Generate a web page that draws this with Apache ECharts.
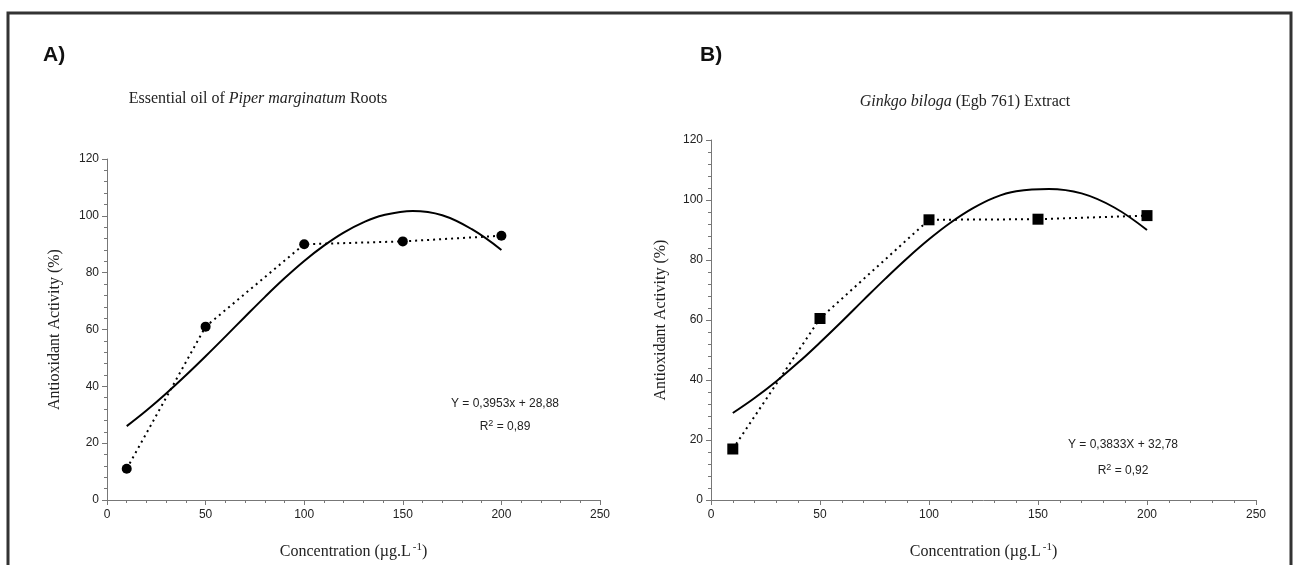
<!DOCTYPE html>
<html>
<head>
<meta charset="utf-8">
<script src="https://cdn.jsdelivr.net/npm/echarts@6/dist/echarts.min.js"></script>
<style>
  html, body { margin: 0; padding: 0; background: #fff; }
  #main { width: 1295px; height: 565px; }
</style>
</head>
<body>
<div id="main"></div>
<script>
// measured points (x = concentration)
var concentrations = [10, 50, 100, 150, 200];
var piperValues = [11, 61, 90, 91, 93];
var ginkgoValues = [17, 60.5, 93.4, 93.6, 94.8];

// fitted curves (one sample sits on the peak)
var curveX = [10, 20, 30, 40, 50, 60, 70, 80, 90, 100, 110, 120, 130, 140, 155, 170, 185, 200];
var piperCurve = [26, 31.5, 37.5, 43.9, 50.6, 57.5, 64.5, 71.4, 78, 84.1, 89.5, 94.1, 97.7, 100.2, 101.7, 100.2, 95.3, 88];
var ginkgoCurve = [29, 34, 39.6, 45.8, 52.5, 59.5, 66.7, 73.8, 80.6, 86.9, 92.5, 97.2, 100.8, 102.9, 103.7, 102.2, 97.5, 90];

var xTicks = [0, 50, 100, 150, 200, 250];
var yTicks = [0, 20, 40, 60, 80, 100, 120];

function pairs(xs, ys) {
    return xs.map(function (x, i) { return [x, ys[i]]; });
}

var serif = 'Liberation Serif';
var sans = 'Liberation Sans';

function xAxisOf(gridIndex) {
    return {
        gridIndex: gridIndex,
        type: 'value',
        min: xTicks[0],
        max: xTicks[xTicks.length - 1],
        interval: 50,
        name: '{n|Concentration (µg.L}{s|-1}{n|)}',
        nameLocation: 'middle',
        nameGap: 42,
        nameTextStyle: {
            rich: {
                n: { fontFamily: serif, fontSize: 16, fontWeight: 'normal', color: '#222', lineHeight: 20 },
                s: { fontFamily: serif, fontSize: 11, fontWeight: 'normal', color: '#222', verticalAlign: 'top', padding: [0, 0, 0, 2] }
            }
        },
        axisLine: { lineStyle: { color: '#777', width: 1 } },
        axisTick: { length: 5, lineStyle: { color: '#777' } },
        minorTick: { show: true, splitNumber: 5, length: 3, lineStyle: { color: '#777' } },
        splitLine: { show: false },
        axisLabel: { fontFamily: sans, fontSize: 12, color: '#222', margin: 9 }
    };
}

function yAxisOf(gridIndex, gap) {
    return {
        gridIndex: gridIndex,
        type: 'value',
        min: yTicks[0],
        max: yTicks[yTicks.length - 1],
        interval: 20,
        name: 'Antioxidant Activity (%)',
        nameLocation: 'middle',
        nameGap: gap,
        nameTextStyle: { fontFamily: serif, fontSize: 16, color: '#222' },
        axisLine: { show: true, lineStyle: { color: '#777', width: 1 } },
        axisTick: { show: true, length: 5, lineStyle: { color: '#777' } },
        minorTick: { show: true, splitNumber: 5, length: 3, lineStyle: { color: '#777' } },
        splitLine: { show: false },
        axisLabel: { fontFamily: sans, fontSize: 12, color: '#222', margin: 8 }
    };
}

var eqRich = {
    n: { fontFamily: sans, fontSize: 12, fontWeight: 'normal', color: '#222', lineHeight: 16 },
    s: { fontFamily: sans, fontSize: 9, fontWeight: 'normal', color: '#222', verticalAlign: 'top' }
};

var titleRich = {
    n: { fontFamily: serif, fontSize: 16, fontWeight: 'normal', color: '#222' },
    i: { fontFamily: serif, fontSize: 16, fontWeight: 'normal', fontStyle: 'italic', color: '#222' }
};

var myChart = echarts.init(document.getElementById('main'));

var option = {
    backgroundColor: '#fff',
    animation: false,
    graphic: [{
        type: 'rect',
        shape: { x: 8, y: 13, width: 1283, height: 620 },
        style: { fill: 'none', stroke: '#333', lineWidth: 3 },
        silent: true
    }],
    title: [
        { text: 'A)', left: 38, top: 40, textStyle: { fontFamily: sans, fontSize: 21, fontWeight: 'bold', color: '#111' } },
        { text: 'B)', left: 695, top: 40, textStyle: { fontFamily: sans, fontSize: 21, fontWeight: 'bold', color: '#111' } },
        {
            text: '{n|Essential oil of }{i|Piper marginatum}{n| Roots}',
            left: 253, top: 86, textAlign: 'center',
            textStyle: { rich: titleRich }
        },
        {
            text: '{i|Ginkgo biloga}{n| (Egb 761) Extract}',
            left: 960, top: 89, textAlign: 'center',
            textStyle: { rich: titleRich }
        },
        { text: '{n|Y = 0,3953x + 28,88}', left: 500, top: 391, textAlign: 'center', textStyle: { rich: eqRich } },
        { text: '{n|R}{s|2}{n| = 0,89}', left: 500, top: 414, textAlign: 'center', textStyle: { rich: eqRich } },
        { text: '{n|Y = 0,3833X + 32,78}', left: 1118, top: 432, textAlign: 'center', textStyle: { rich: eqRich } },
        { text: '{n|R}{s|2}{n| = 0,92}', left: 1118, top: 458, textAlign: 'center', textStyle: { rich: eqRich } }
    ],
    grid: [
        { left: 107, top: 159, width: 493, height: 341 },
        { left: 711, top: 140, width: 545, height: 364 }
    ],
    xAxis: [xAxisOf(0), xAxisOf(1)],
    yAxis: [yAxisOf(0, 44), yAxisOf(1, 42)],
    series: [
        {
            name: 'Piper fit',
            type: 'line',
            xAxisIndex: 0, yAxisIndex: 0,
            data: pairs(curveX, piperCurve),
            smooth: 0.4,
            showSymbol: false,
            lineStyle: { color: '#000', width: 2 }
        },
        {
            name: 'Piper',
            type: 'line',
            xAxisIndex: 0, yAxisIndex: 0,
            data: pairs(concentrations, piperValues),
            symbol: 'circle',
            symbolSize: 10,
            itemStyle: { color: '#000' },
            lineStyle: { color: '#000', width: 2, type: [2, 4] }
        },
        {
            name: 'Ginkgo fit',
            type: 'line',
            xAxisIndex: 1, yAxisIndex: 1,
            data: pairs(curveX, ginkgoCurve),
            smooth: 0.4,
            showSymbol: false,
            lineStyle: { color: '#000', width: 2 }
        },
        {
            name: 'Ginkgo',
            type: 'line',
            xAxisIndex: 1, yAxisIndex: 1,
            data: pairs(concentrations, ginkgoValues),
            symbol: 'rect',
            symbolSize: 11,
            itemStyle: { color: '#000' },
            lineStyle: { color: '#000', width: 2, type: [2, 4] }
        }
    ]
};

myChart.setOption(option);
</script>
</body>
</html>
